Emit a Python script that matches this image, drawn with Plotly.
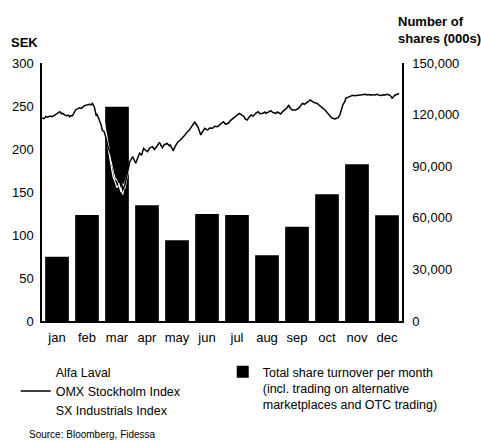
import plotly.graph_objects as go

# Monthly share turnover (thousands of shares)
months = ["jan", "feb", "mar", "apr", "may", "jun", "jul", "aug", "sep", "oct", "nov", "dec"]
turnover = [37400, 61600, 124600, 67300, 46900, 62200, 61600, 38200, 54800, 73700, 91100, 61500]

# OMX Stockholm Index, rebased to SEK, by day of year
omx_day = [0, 2, 4, 6, 8, 10, 13, 15, 16, 18, 20, 21, 23, 25, 27, 28, 30, 31, 34, 36,
           38, 40, 43, 45, 48, 50, 51, 53, 55, 56, 58, 60, 61, 63, 65, 67, 70, 72, 74,
           76, 78, 80, 82, 84, 86, 89, 92, 95, 97, 99, 101, 103, 105, 107, 109, 112, 114,
           115, 117, 119, 121, 122, 124, 127, 129, 130, 132, 133, 135, 138, 140, 142, 144,
           147, 149, 151, 153, 155, 156, 158, 160, 161, 163, 165, 167, 168, 170, 173, 175,
           178, 180, 182, 184, 186, 189, 191, 194, 197, 200, 202, 205, 206, 208, 210, 212,
           214, 215, 217, 219, 221, 224, 226, 227, 229, 232, 234, 237, 239, 242, 244, 247,
           249, 250, 252, 254, 257, 259, 260, 262, 264, 266, 267, 269, 270, 272, 274, 276,
           279, 281, 282, 284, 287, 289, 292, 294, 297, 298, 300, 302, 304, 305, 307, 308,
           310, 313, 315, 317, 320, 322, 324, 326, 328, 330, 332, 334, 336, 338, 340, 342,
           344, 346, 348, 350, 352, 354, 355, 357, 358, 360, 362]
omx_sek = [236.0, 235.2, 237.8, 237.0, 238.4, 237.5, 239.5, 240.8, 241.9, 243.4, 241.0,
           241.5, 239.6, 238.7, 239.4, 237.6, 238.9, 238.7, 245.4, 246.5, 248.0, 247.2,
           250.3, 251.0, 252.0, 251.4, 253.1, 249.2, 238.7, 240.0, 233.7, 228.0, 222.1,
           220.1, 212.4, 202.3, 193.0, 181.4, 172.1, 167.4, 161.6, 163.9, 152.3, 158.1,
           169.8, 185.2, 191.0, 183.4, 189.5, 195.0, 193.0, 200.8, 198.5, 196.9, 201.0,
           202.7, 199.5, 200.8, 204.0, 207.8, 203.5, 201.5, 205.0, 206.6, 203.8, 204.7,
           200.5, 197.7, 203.0, 208.5, 210.2, 212.4, 215.0, 219.4, 221.5, 224.8, 228.5,
           231.7, 229.0, 225.9, 219.5, 216.3, 220.5, 224.1, 222.5, 222.1, 224.5, 224.1,
           226.5, 225.9, 228.0, 229.9, 231.7, 229.0, 229.9, 233.0, 235.7, 238.0, 241.5,
           240.0, 237.6, 235.0, 233.7, 237.0, 239.5, 238.2, 239.5, 241.8, 243.4, 241.0,
           241.5, 243.0, 241.5, 243.0, 244.5, 242.5, 241.5, 243.0, 240.7, 243.5, 246.2,
           248.5, 251.2, 247.0, 245.4, 245.4, 246.5, 247.3, 250.0, 253.1, 252.0, 253.1,
           254.5, 255.0, 257.0, 255.5, 254.0, 253.1, 251.0, 249.2, 248.0, 245.4, 242.0,
           238.4, 236.0, 234.9, 235.5, 236.1, 239.5, 246.0, 251.2, 255.0, 259.0, 260.0,
           261.6, 262.5, 261.8, 262.2, 263.0, 262.4, 262.8, 263.6, 262.9, 263.4, 262.5,
           263.2, 262.8, 263.6, 262.6, 262.2, 263.0, 262.8, 263.5, 262.9, 261.0, 259.0,
           261.5, 262.8, 263.4, 264.8]

# Alfa Laval share price (SEK)
alfa_day = [0, 15, 30, 45, 55, 62, 64, 66, 68, 70, 72, 74, 76, 78, 80, 82, 84, 86, 88,
            91, 96, 110, 130, 150, 170, 190, 210, 230, 250, 270, 290, 300, 310, 330, 350, 362]
alfa_sek = [235.0, 240.0, 238.0, 250.0, 251.0, 242.0, 226.0, 215.0, 200.0, 186.0, 178.0,
            166.0, 164.0, 160.0, 150.0, 160.0, 154.0, 166.0, 175.0, 183.0, 190.0, 198.0,
            205.0, 222.0, 226.0, 233.0, 240.0, 243.0, 248.0, 252.0, 246.0, 238.0, 252.0,
            262.0, 263.0, 264.0]

# SX Industrials Index, rebased to SEK
sx_day = [0, 15, 30, 45, 55, 62, 64, 66, 68, 70, 72, 74, 76, 78, 80, 82, 84, 86, 88,
          91, 96, 110, 130, 150, 170, 190, 210, 230, 250, 270, 290, 300, 310, 330, 350, 362]
sx_sek = [236.0, 239.0, 237.0, 249.0, 250.0, 240.0, 222.0, 208.0, 193.0, 181.0, 168.0,
          162.0, 155.0, 158.0, 152.0, 147.0, 161.0, 170.0, 177.0, 186.0, 192.0, 199.0,
          206.0, 223.0, 227.0, 234.0, 241.0, 244.0, 249.0, 253.0, 247.0, 239.0, 253.0,
          263.0, 262.0, 265.0]

month_len = 365 / 12
month_mid = [(i + 0.5) * month_len for i in range(12)]

FONT = "Liberation Sans, Arial, sans-serif"

fig = go.Figure()

fig.add_trace(go.Bar(
    x=month_mid, y=turnover, width=24, marker=dict(color="black", line=dict(width=0)),
    name="Total share turnover per month<br>(incl. trading on alternative<br>marketplaces and OTC trading)",
    legend="legend2", yaxis="y", hoverinfo="skip",
))

fig.add_trace(go.Scatter(
    x=alfa_day, y=alfa_sek, mode="lines", line=dict(color="white", width=1.2),
    name="Alfa Laval", yaxis="y2", legendrank=1,
))
fig.add_trace(go.Scatter(
    x=sx_day, y=sx_sek, mode="lines", line=dict(color="white", width=1.2),
    name="SX Industrials Index", yaxis="y2", legendrank=3,
))
fig.add_trace(go.Scatter(
    x=omx_day, y=omx_sek, mode="lines", line=dict(color="black", width=1.5),
    name="OMX Stockholm Index", yaxis="y2", legendrank=2,
))

fig.update_layout(
    width=481, height=442, autosize=False,
    margin=dict(l=38, r=79, t=63, b=121),
    paper_bgcolor="white", plot_bgcolor="white",
    font=dict(family=FONT, size=13, color="black"),
    barmode="overlay",
    xaxis=dict(
        range=[0, 365], tickvals=month_mid, ticktext=months, showgrid=False,
        zeroline=False, showline=True, linecolor="black", linewidth=1.5, ticks="",
        ticklabelstandoff=4,
    ),
    yaxis=dict(
        side="right", range=[0, 150000], tickvals=list(range(0, 150001, 30000)),
        tickformat=",d", showgrid=False, zeroline=False, showline=True,
        linecolor="black", linewidth=1.5, ticks="", ticklabelstandoff=6,
    ),
    yaxis2=dict(
        overlaying="y", side="left", range=[0, 300], tickvals=list(range(0, 301, 50)),
        showgrid=False, zeroline=False, showline=True, linecolor="black",
        linewidth=1.5, ticks="", ticklabelstandoff=4,
    ),
    legend=dict(
        x=-0.073, y=-0.14, xanchor="left", yanchor="top", orientation="v",
        font=dict(size=12.5), bgcolor="rgba(0,0,0,0)", itemwidth=30,
        tracegroupgap=0,
    ),
    legend2=dict(
        x=0.502, y=-0.14, xanchor="left", yanchor="top", orientation="v",
        font=dict(size=12.5), bgcolor="rgba(0,0,0,0)", valign="top", itemwidth=30,
    ),
    annotations=[
        dict(text="<b>SEK</b>", xref="paper", yref="paper", x=-0.093, y=1.08,
             xanchor="left", yanchor="middle", showarrow=False, font=dict(size=13)),
        dict(text="<b>Number of<br>shares (000s)</b>", xref="paper", yref="paper",
             x=0.984, y=1.06, xanchor="left", yanchor="bottom", align="left",
             showarrow=False, font=dict(size=13)),
        dict(text="Source: Bloomberg, Fidessa", xref="paper", yref="paper",
             x=-0.042, y=-0.44, xanchor="left", yanchor="middle", showarrow=False,
             font=dict(size=10)),
    ],
)

fig.write_html("out.html")
